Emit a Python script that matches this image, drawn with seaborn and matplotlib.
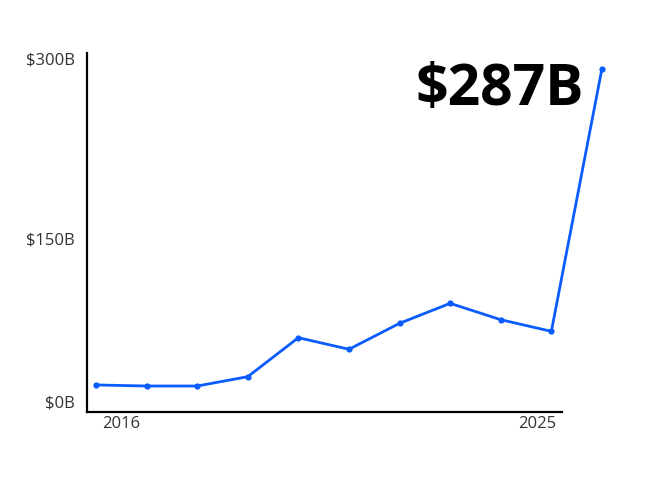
import pandas as pd
import seaborn as sns
import matplotlib.pyplot as plt

years = [2015, 2016, 2017, 2018, 2019, 2020, 2021, 2022, 2023, 2024, 2025]
values = [22.6, 21.7, 21.7, 29.5, 62.1, 52.4, 74.1, 90.8, 77.1, 67.4, 287]
x_tick_labels = ["2016", "2025"]
y_ticks = [0, 150, 300]
y_tick_labels = ["$0B", "$150B", "$300B"]
headline = "$287B"

sns.set_theme(style="white")
plt.rcParams['font.family'] = ['Open Sans', 'DejaVu Sans']


def main():
    df = pd.DataFrame({'Year': years, 'Value': values})

    fig = plt.figure(figsize=(6.5, 4.84), dpi=100)
    ax = fig.add_axes([0.1338, 0.1488, 0.7308, 0.7417])

    sns.lineplot(data=df, x='Year', y='Value', ax=ax, color='#0a5cff',
                 linewidth=2, marker='o', markersize=4.5,
                 markeredgewidth=0, clip_on=False)

    ax.set_xlim(2015 - 0.178, 2015 + 9.21)
    ax.set_ylim(0, 300)

    ax.set_xticks([2015.5, 2023.72])
    ax.set_xticklabels(x_tick_labels)
    ax.set_yticks(y_ticks)
    ax.set_yticklabels(y_tick_labels)
    for lbl in ax.get_yticklabels():
        lbl.set_va('bottom' if lbl.get_text() == '$0B' else 'top')

    ax.tick_params(axis='both', length=0, labelsize=12, labelcolor='#333333')
    ax.tick_params(axis='y', pad=9)
    ax.tick_params(axis='x', pad=3)
    ax.set_xlabel('')
    ax.set_ylabel('')

    for side in ['top', 'right']:
        ax.spines[side].set_visible(False)
    for side in ['left', 'bottom']:
        ax.spines[side].set_color('black')
        ax.spines[side].set_linewidth(1.6)

    fig.text(584 / 650, 1 - 105 / 484, headline, ha='right', va='baseline',
             fontsize=41, fontweight='bold', color='black')

    fig.savefig('out.png', dpi=100, facecolor='white')
    plt.close(fig)


if __name__ == "__main__":
    main()
